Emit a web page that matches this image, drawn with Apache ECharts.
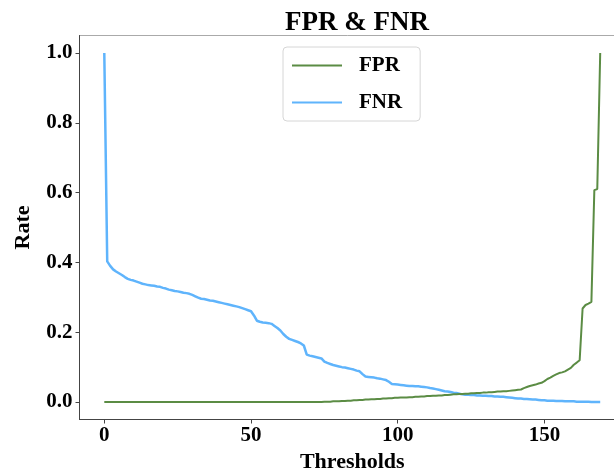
<!DOCTYPE html>
<html>
<head>
<meta charset="utf-8">
<script src="https://cdn.jsdelivr.net/npm/echarts@6/dist/echarts.min.js"></script>
<style>html,body{margin:0;padding:0;background:#fff}#c{width:614px;height:472px}</style>
</head>
<body>
<div id="c"></div>
<script>
var titleText = 'FPR & FNR';
var xName = 'Thresholds';
var yName = 'Rate';
var xTicks = [0, 50, 100, 150];
var yTicks = [0, 0.2, 0.4, 0.6, 0.8, 1.0];
var fprName = 'FPR';
var fnrName = 'FNR';
var fpr = [
0,0,0,0,0,0,0,0,0,0, 0,0,0,0,0,0,0,0,0,0,
0,0,0,0,0,0,0,0,0,0, 0,0,0,0,0,0,0,0,0,0,
0,0,0,0,0,0,0,0,0,0, 0,0,0,0,0,0,0,0,0,0,
0,0,0,0,0,0,0,0,0,0, 0,0,0,0,0,0.001,0.001,0.001,0.002,0.002,
0.002,0.003,0.003,0.004,0.004,0.005,0.005,0.006,0.006,0.007,
0.007,0.008,0.008,0.009,0.009,0.010,0.010,0.011,0.011,0.012,
0.012,0.013,0.013,0.013,0.014,0.014,0.015,0.015,0.016,0.016,
0.017,0.017,0.018,0.018,0.019,0.019,0.020,0.020,0.021,0.022,
0.022,0.023,0.023,0.024,0.024,0.025,0.025,0.026,0.026,0.027,
0.027,0.028,0.028,0.029,0.030,0.030,0.031,0.031,0.032,0.033,
0.034,0.035,0.036,0.040,0.043,0.046,0.048,0.050,0.053,0.055,
0.060,0.066,0.070,0.075,0.079,0.083,0.085,0.088,0.093,0.098,
0.107,0.113,0.120,0.268,0.278,0.282,0.287,0.607,0.610,1.0
];
var fnr = [
1.0,0.403,0.390,0.380,0.374,0.369,0.364,0.358,0.353,0.350,
0.348,0.345,0.342,0.339,0.337,0.335,0.334,0.333,0.331,0.330,
0.327,0.325,0.322,0.320,0.318,0.317,0.315,0.313,0.312,0.310,
0.307,0.303,0.299,0.296,0.295,0.293,0.291,0.290,0.288,0.286,
0.284,0.282,0.280,0.278,0.276,0.274,0.272,0.269,0.266,0.263,
0.260,0.248,0.233,0.230,0.228,0.227,0.226,0.224,0.218,0.212,
0.205,0.195,0.187,0.181,0.178,0.175,0.172,0.168,0.162,0.136,
0.133,0.131,0.129,0.127,0.125,0.116,0.112,0.109,0.106,0.104,
0.102,0.100,0.099,0.097,0.095,0.093,0.090,0.088,0.080,0.073,
0.072,0.071,0.070,0.068,0.067,0.065,0.063,0.058,0.052,0.051,
0.050,0.049,0.048,0.047,0.046,0.046,0.045,0.045,0.044,0.043,
0.042,0.040,0.039,0.037,0.035,0.033,0.031,0.030,0.029,0.027,
0.026,0.024,0.022,0.021,0.021,0.020,0.020,0.019,0.019,0.018,
0.018,0.017,0.017,0.016,0.016,0.015,0.015,0.014,0.013,0.012,
0.011,0.010,0.010,0.009,0.009,0.008,0.007,0.007,0.006,0.005,
0.005,0.004,0.004,0.004,0.003,0.003,0.003,0.002,0.002,0.002,
0.002,0.001,0.001,0.001,0.001,0.001,0,0,0,0
];

var FONT = '"Liberation Serif", "Times New Roman", serif';
function pairs(arr){ return arr.map(function(v,i){ return [i, v]; }); }

var chart = echarts.init(document.getElementById('c'), null, {renderer:'canvas'});
chart.setOption({
  animation: false,
  backgroundColor: '#fff',
  title: {
    text: titleText, left: 352, top: 5, textAlign: 'center',
    textStyle: {fontFamily: FONT, fontWeight: 'bold', fontSize: 27, color: '#000'}
  },
  legend: {
    orient: 'vertical', left: 283, top: 47,
    data: [fprName, fnrName],
    padding: [8, 18, 8, 9],
    itemGap: 16, itemWidth: 50, itemHeight: 2,
    icon: 'rect',
    borderColor: '#d6d6d6', borderWidth: 1, borderRadius: 4,
    textStyle: {fontFamily: FONT, fontWeight: 'bold', fontSize: 21, color: '#000', padding: [0,0,0,12], lineHeight: 20}
  },
  grid: {
    left: 79.5, top: 35.5, width: 545.5, bottom: 52.5,
    containLabel: false, outerBoundsMode: 'none',
    show: true, borderColor: '#aaaaaa', borderWidth: 1, backgroundColor: 'transparent'
  },
  xAxis: {
    type: 'value', min: -8.45, max: 177.45,
    name: xName, nameLocation: 'middle', nameGap: 31,
    nameTextStyle: {fontFamily: FONT, fontWeight: 'bold', fontSize: 22, color: '#000'},
    axisLine: {show: true, onZero: false, lineStyle: {color: '#444', width: 1}},
    axisTick: {show: true, length: 4, inside: false, customValues: xTicks, lineStyle: {color: '#444'}},
    axisLabel: {customValues: xTicks, margin: 6, fontFamily: FONT, fontWeight: 'bold', fontSize: 21, color: '#000'},
    splitLine: {show: false}
  },
  yAxis: {
    type: 'value', min: -0.05, max: 1.05,
    name: yName, nameLocation: 'middle', nameGap: 45, nameRotate: 90,
    nameTextStyle: {fontFamily: FONT, fontWeight: 'bold', fontSize: 22, color: '#000'},
    axisLine: {show: true, onZero: false, lineStyle: {color: '#444', width: 1}},
    axisTick: {show: true, length: 4, inside: false, customValues: yTicks, lineStyle: {color: '#444'}},
    axisLabel: {customValues: yTicks, margin: 7, fontFamily: FONT, fontWeight: 'bold', fontSize: 21, color: '#000',
      formatter: function(v){ return v.toFixed(1); }},
    splitLine: {show: false}
  },
  series: [
    {name: fprName, type: 'line', data: pairs(fpr), symbol: 'none', color: '#5b8c44',
     lineStyle: {color: '#5b8c44', width: 2}, z: 3},
    {name: fnrName, type: 'line', data: pairs(fnr), symbol: 'none', color: '#5fb4fc',
     lineStyle: {color: '#5fb4fc', width: 2.5}, z: 2}
  ]
});
</script>
</body>
</html>
